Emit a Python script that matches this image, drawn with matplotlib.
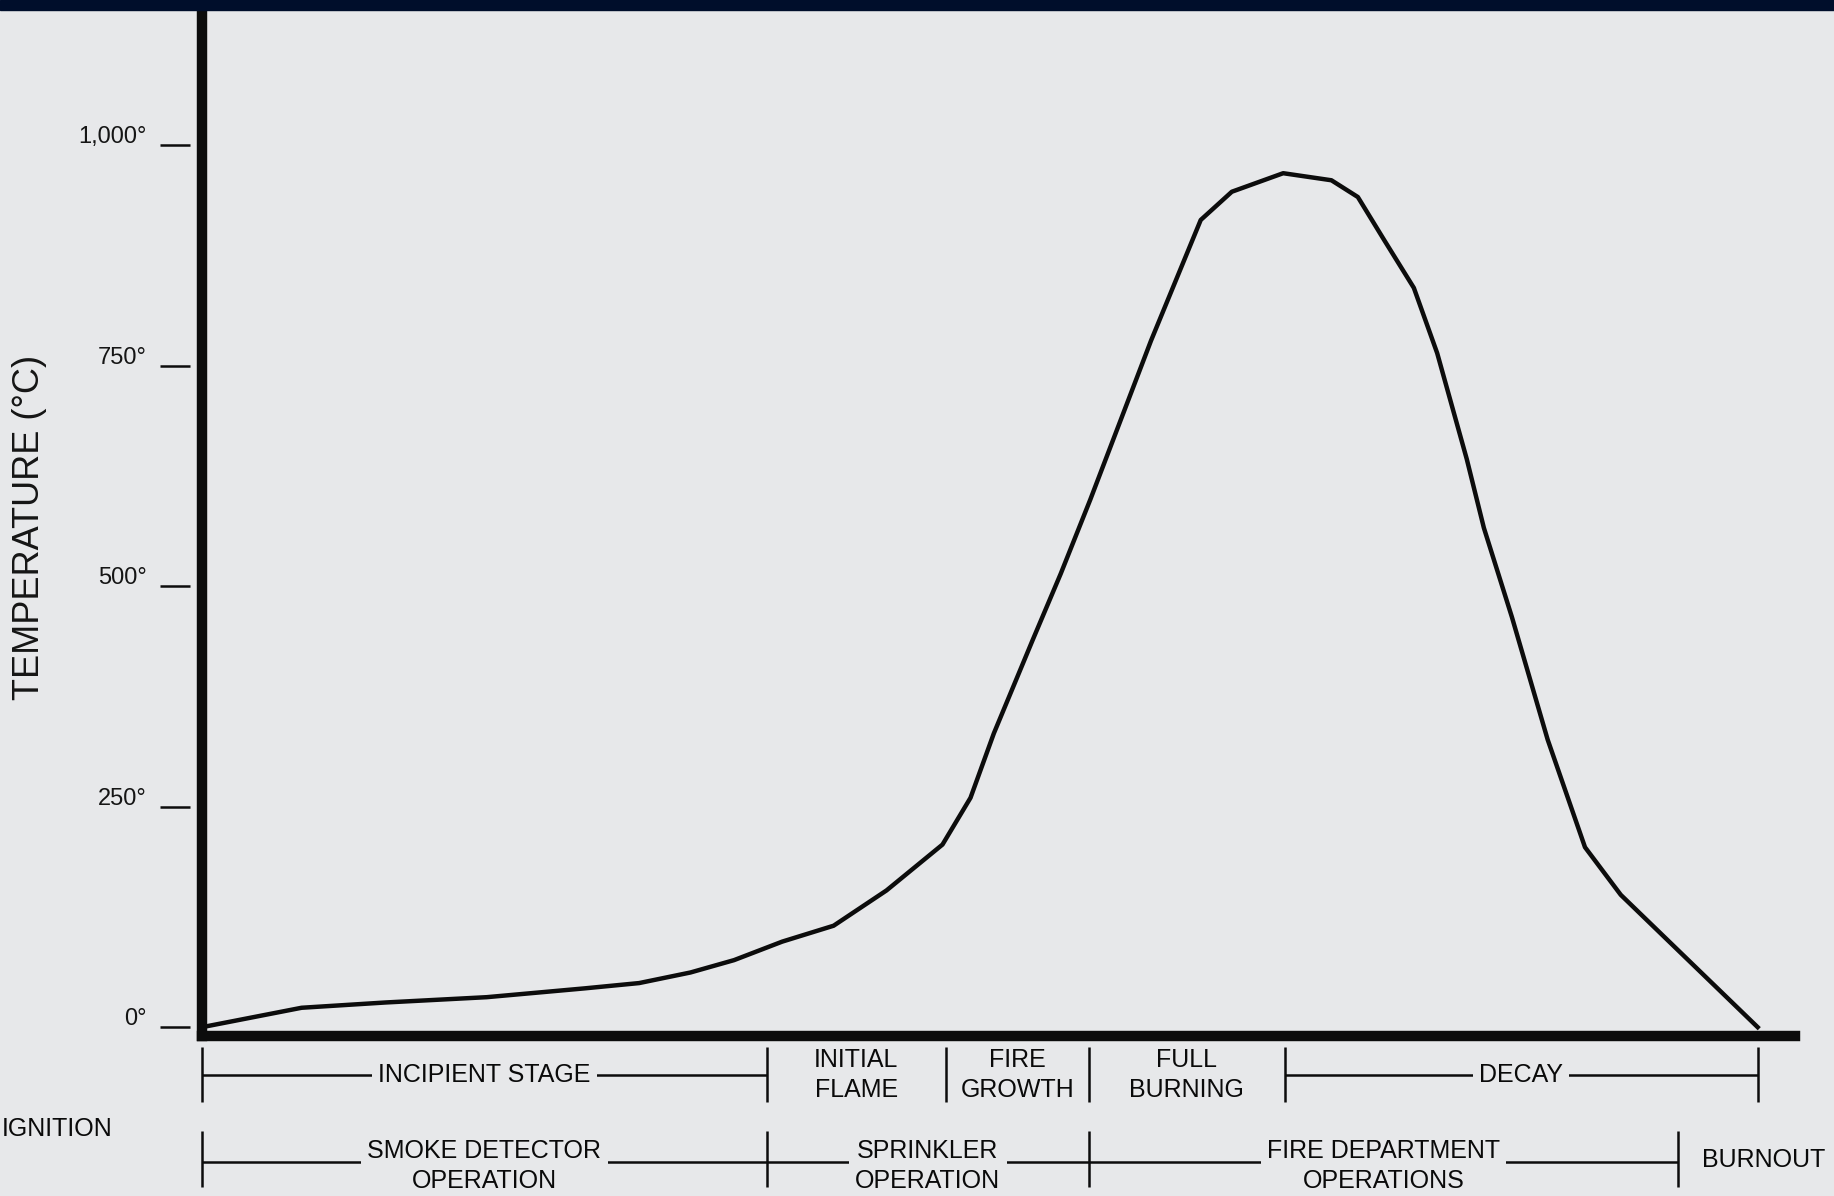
import numpy as np
import matplotlib.pyplot as plt
from matplotlib import font_manager
from matplotlib.patches import Rectangle
import matplotlib.transforms as mtransforms

# fire development curve (time in % of burnout, temperature in deg C)
time = [0, 6.4, 11.8, 18.3, 24.6, 28.1, 31.4, 34.2, 37.3, 40.6, 44.0, 47.6, 49.4,
        50.9, 53.4, 55.2, 57.1, 61.0, 64.2, 66.2, 69.5, 72.6, 74.3, 76.0, 77.9,
        79.4, 81.3, 82.4, 84.2, 86.5, 88.9, 91.2, 100]
temp = [0, 22, 28, 34, 44, 50, 62, 76, 97, 115, 155, 207, 260,
        333, 439, 514, 598, 778, 915, 947, 968, 960, 941, 892, 838,
        764, 644, 566, 465, 326, 204, 150, 0]

yticks = [0, 250, 500, 750, 1000]
ytick_labels = ['0°', '250°', '500°', '750°', '1,000°']

stage_edges = [0, 36.3, 47.8, 57.0, 69.6, 100]
stage_names = ['INCIPIENT STAGE', 'INITIAL\nFLAME', 'FIRE\nGROWTH', 'FULL\nBURNING', 'DECAY']
stage_ruled = [True, False, False, False, True]

system_edges = [0, 36.3, 57.0, 94.9]
system_names = ['SMOKE DETECTOR\nOPERATION', 'SPRINKLER\nOPERATION', 'FIRE DEPARTMENT\nOPERATIONS']

bg = '#e7e8ea'
ink = '#0c0c0c'

names = {f.name for f in font_manager.fontManager.ttflist}
if 'Liberation Sans Narrow' in names:
    lab_font, lab_size = 'Liberation Sans Narrow', 21.5
else:
    lab_font, lab_size = 'Liberation Sans', 18
plt.rcParams['font.family'] = ['Liberation Sans', 'DejaVu Sans']

W, H = 1834, 1196
fig = plt.figure(figsize=(W / 100, H / 100), dpi=100, facecolor=bg)
ax = fig.add_axes([202 / W, 1 - 1036 / H, (1795 - 202) / W, (1036 - 10) / H])
ax.patch.set_visible(False)

ax.plot(time, temp, color=ink, lw=3.2, solid_joinstyle='round', clip_on=False, zorder=3)

ax.set_xlim(0, 102.4)
ax.set_ylim(-10, 1153)
for s in ['top', 'right']:
    ax.spines[s].set_visible(False)
for s in ['left', 'bottom']:
    ax.spines[s].set_linewidth(7.5)
    ax.spines[s].set_color(ink)
ax.set_xticks([])
ax.set_yticks([])

# detached tick dashes and labels
ytr = ax.get_yaxis_transform()
ax_w = 1795 - 202
ax.hlines(yticks, -42 / ax_w, -12 / ax_w, transform=ytr, color=ink, lw=1.8, clip_on=False)
for v, lab in zip(yticks, ytick_labels):
    ax.text(-55 / ax_w, v + 9, lab, transform=ytr, ha='right', va='center',
            fontsize=17, color='#151515')

fig.text(30 / W, 1 - 527 / H, 'TEMPERATURE (°C)', rotation=90, ha='center', va='center',
         fontsize=26, color='#151515')

# phase rows below the axis
btr = mtransforms.blended_transform_factory(ax.transData, fig.transFigure)
fy = lambda px: 1 - px / H

row1_y, row2_y, row2_text = 1075, 1162, 1166
box = dict(facecolor=bg, edgecolor='none', boxstyle='square,pad=0.25')

ax.vlines(stage_edges, fy(1047), fy(1102), transform=btr, color=ink, lw=1.8, clip_on=False)
for i, name in enumerate(stage_names):
    a, b = stage_edges[i], stage_edges[i + 1]
    if stage_ruled[i]:
        ax.hlines(fy(row1_y), a, b, transform=btr, color=ink, lw=1.8, clip_on=False)
    ax.text((a + b) / 2, fy(row1_y), name, transform=btr, ha='center', va='center',
            multialignment='center', family=lab_font, fontsize=lab_size, color='#0a0a0a',
            linespacing=1.35, bbox=box if stage_ruled[i] else None, zorder=4)

ax.vlines(system_edges, fy(1131), fy(1187), transform=btr, color=ink, lw=1.8, clip_on=False)
ax.hlines(fy(row2_y), system_edges[0], system_edges[-1], transform=btr, color=ink, lw=1.8,
          clip_on=False)
for i, name in enumerate(system_names):
    a, b = system_edges[i], system_edges[i + 1]
    ax.text((a + b) / 2, fy(row2_text), name, transform=btr, ha='center', va='center',
            multialignment='center', family=lab_font, fontsize=lab_size, color='#0a0a0a',
            linespacing=1.35, bbox=box, zorder=4)

burn = mtransforms.offset_copy(btr, fig=fig, x=24, y=0, units='dots')
ax.text(system_edges[-1], fy(1160), 'BURNOUT', transform=burn, ha='left', va='center',
        family=lab_font, fontsize=lab_size, color='#0a0a0a')

fig.text(2 / W, fy(1129), 'IGNITION', ha='left', va='center', family=lab_font,
         fontsize=lab_size, color='#0a0a0a')

# dark band along the top edge
fig.add_artist(Rectangle((0, 1 - 10 / H), 1, 10 / H, transform=fig.transFigure,
                         color='#000e2b', zorder=10))

fig.savefig('out.png', dpi=100, facecolor=bg)
